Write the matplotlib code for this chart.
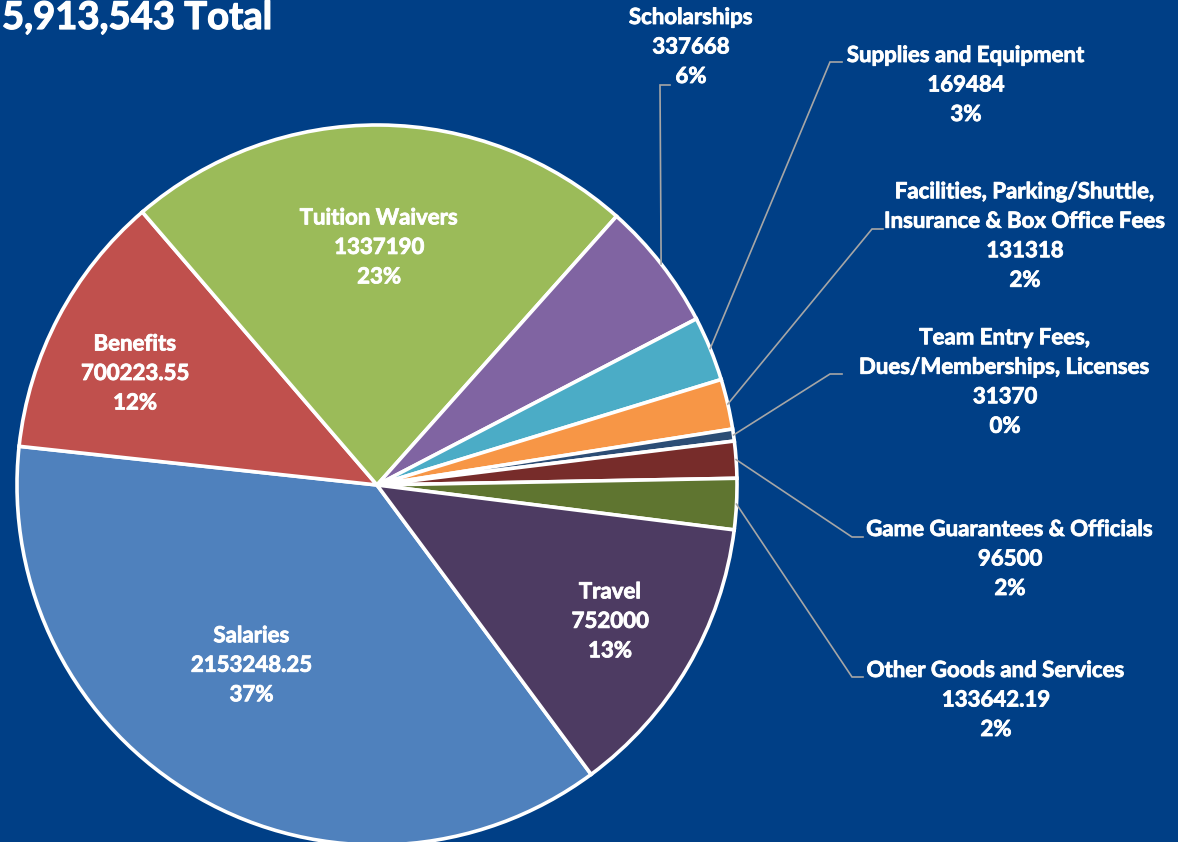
import numpy as np
import matplotlib.pyplot as plt
import matplotlib.patheffects as pe

# data (clockwise, starting with Salaries)
categories = ["Salaries", "Benefits", "Tuition Waivers", "Scholarships",
              "Supplies and Equipment",
              "Facilities, Parking/Shuttle,\nInsurance & Box Office Fees",
              "Team Entry Fees,\nDues/Memberships, Licenses",
              "Game Guarantees & Officials", "Other Goods and Services", "Travel"]
values = [2153248.25, 700223.55, 1337190, 337668, 169484, 131318, 31370,
          96500, 133642.19, 752000]
pct_labels = ["37%", "12%", "23%", "6%", "3%", "2%", "0%", "2%", "2%", "13%"]
title_text = "5,913,543 Total"

colors = ["#4F81BD", "#C0504D", "#9BBB59", "#8064A2", "#4BACC6", "#F79646",
          "#2C4D75", "#772C2A", "#5F7530", "#4D3B62"]
bg = "#003F86"

W, H = 1178, 842
cx, cy, R = 377, H - 485, 360

plt.rcParams['font.family'] = ['Lato', 'DejaVu Sans']

fig = plt.figure(figsize=(W / 100, H / 100), dpi=100, facecolor=bg)
ax = fig.add_axes([0, 0, 1, 1])
ax.set_facecolor(bg)

wedges, _ = ax.pie(values, colors=colors, startangle=-53.5, counterclock=False,
                   center=(cx, cy), radius=R,
                   wedgeprops=dict(edgecolor="white", linewidth=2.6))
ax.set_xlim(0, W)
ax.set_ylim(0, H)
ax.axis("off")


def fmt(v):
    return f"{v:.2f}".rstrip("0").rstrip(".")


def mid_angle(w):
    return (w.theta1 + w.theta2) / 2


# a thin white stroke makes Lato Bold look closer to the heavier original
bold = [pe.withStroke(linewidth=0.6, foreground="white")]
txt = dict(color="white", fontweight="bold", fontsize=16, ha="center",
           va="center", linespacing=1.5, path_effects=bold)

# labels inside the big slices: index -> (radius fraction, angle shift)
inside = {0: (0.61, -5), 1: (0.74, 3), 2: (0.66, 0), 9: (0.75, 0)}
for i, (f, da) in inside.items():
    a = np.deg2rad(mid_angle(wedges[i]) + da)
    ax.text(cx + f * R * np.cos(a), cy + f * R * np.sin(a),
            f"{categories[i]}\n{fmt(values[i])}\n{pct_labels[i]}", **txt)

# labels outside: index -> (text centre, elbow, line end) in pixels from top
outside = {
    3: ((691, 47), (660, 85), (670, 85)),
    4: ((966, 85), (830, 62), (842, 62)),
    5: ((1025, 236), (872, 229), (883, 229)),
    6: ((1005, 382), (830, 374), (842, 374)),
    7: ((1010, 559), (852, 537), (863, 537)),
    8: ((996, 700), (852, 677), (863, 677)),
}
for i, (tpos, elbow, end) in outside.items():
    a = np.deg2rad(mid_angle(wedges[i]))
    px, py = cx + R * np.cos(a), cy + R * np.sin(a)
    ax.plot([px, elbow[0], end[0]], [py, H - elbow[1], H - end[1]],
            color="#A6A6A6", lw=1.2, solid_joinstyle="miter")
    ax.text(tpos[0], H - tpos[1],
            f"{categories[i]}\n{fmt(values[i])}\n{pct_labels[i]}", **txt)

ax.text(2, H - 18, title_text, color="white", fontweight="bold", fontsize=27.5,
        ha="left", va="center",
        path_effects=[pe.withStroke(linewidth=0.9, foreground="white")])

fig.savefig("out.png", dpi=100, facecolor=bg)
